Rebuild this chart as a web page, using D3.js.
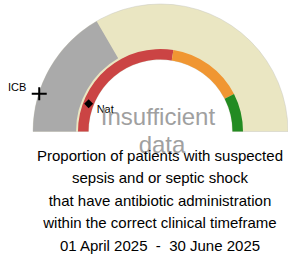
<!DOCTYPE html>
<html>
<head>
<meta charset="utf-8">
<script src="https://cdn.jsdelivr.net/npm/d3@7"></script>
<style>
  body { margin: 0; background: #fff; }
  text { font-family: "Liberation Sans", Arial, sans-serif; }
</style>
</head>
<body>
<div id="chart"></div>
<script>
// gauge data
const gaugeDomain = [0, 100];
const zoneNames = ["below", "near", "above"];
const zoneLimits = [0, 55, 85, 100];
const shadedValue = 33.3;
const markerNames = ["ICB", "Nat"];
const markerValues = [9.6, 11.7];
const statusLines = ["Insufficient", "data"];
const titleLines = [
  "Proportion of patients with suspected",
  "sepsis and or septic shock",
  "that have antibiotic administration",
  "within the correct clinical timeframe",
  "01 April 2025  -  30 June 2025"
];

const width = 288, height = 254;
const cx = 160.5, cy = 131.5;
const zoneColors = { below: "#cb4444", near: "#f09632", above: "#238b22" };

const svg = d3.select("#chart").append("svg")
  .attr("width", width)
  .attr("height", height);

const g = svg.append("g").attr("transform", `translate(${cx},${cy})`);

const angle = d3.scaleLinear().domain(gaugeDomain).range([-Math.PI / 2, Math.PI / 2]);

// background band
g.append("path")
  .attr("d", d3.arc()({ innerRadius: 72, outerRadius: 127.5, startAngle: angle(gaugeDomain[0]), endAngle: angle(gaugeDomain[1]) }))
  .attr("fill", "#eae6c2")
  .attr("stroke", "#c8c8c0")
  .attr("stroke-width", 0.5);

// shaded part
g.append("path")
  .attr("d", d3.arc()({ innerRadius: 84.5, outerRadius: 127.5, startAngle: angle(gaugeDomain[0]), endAngle: angle(shadedValue) }))
  .attr("fill", "#aaaaaa");

// coloured zones
const zoneArc = d3.arc().innerRadius(72).outerRadius(82.5);
g.selectAll("path.zone")
  .data(zoneNames)
  .enter()
  .append("path")
    .attr("class", "zone")
    .attr("d", (d, i) => zoneArc({ startAngle: angle(zoneLimits[i]), endAngle: angle(zoneLimits[i + 1]) }))
    .attr("fill", d => zoneColors[d]);

// status text (drawn under the title)
svg.selectAll("text.status")
  .data(statusLines)
  .enter()
  .append("text")
    .attr("class", "status")
    .attr("x", (d, i) => i === 0 ? 158 : 162)
    .attr("y", (d, i) => 125 + i * 28)
    .attr("text-anchor", "middle")
    .attr("font-size", 24)
    .attr("fill", "#a0a0a0")
    .text(d => d);

// markers
const pos = (v, r) => [r * Math.sin(angle(v)), -r * Math.cos(angle(v))];

const icb = pos(markerValues[0], 127);
g.append("path")
  .attr("d", `M${icb[0] - 7.5},${icb[1]}H${icb[0] + 7.5}M${icb[0]},${icb[1] - 6.5}V${icb[1] + 6.5}`)
  .attr("stroke", "#000")
  .attr("stroke-width", 2)
  .attr("fill", "none");
g.append("text")
  .attr("x", icb[0] - 13)
  .attr("y", icb[1] - 3)
  .attr("text-anchor", "end")
  .attr("font-size", 11)
  .text(markerNames[0]);

const nat = pos(markerValues[1], 77);
g.append("path")
  .attr("transform", `translate(${nat[0]},${nat[1]}) rotate(45)`)
  .attr("d", d3.symbol(d3.symbolSquare, 40)())
  .attr("fill", "#000");
g.append("text")
  .attr("x", nat[0] + 8)
  .attr("y", nat[1] + 9)
  .attr("font-size", 11)
  .text(markerNames[1]);

// title
svg.selectAll("text.title")
  .data(titleLines)
  .enter()
  .append("text")
    .attr("class", "title")
    .attr("x", 160)
    .attr("y", (d, i) => 161 + i * 22.4)
    .attr("text-anchor", "middle")
    .attr("font-size", 15)
    .style("white-space", "pre")
    .attr("fill", "#000")
    .text(d => d);
</script>
</body>
</html>
